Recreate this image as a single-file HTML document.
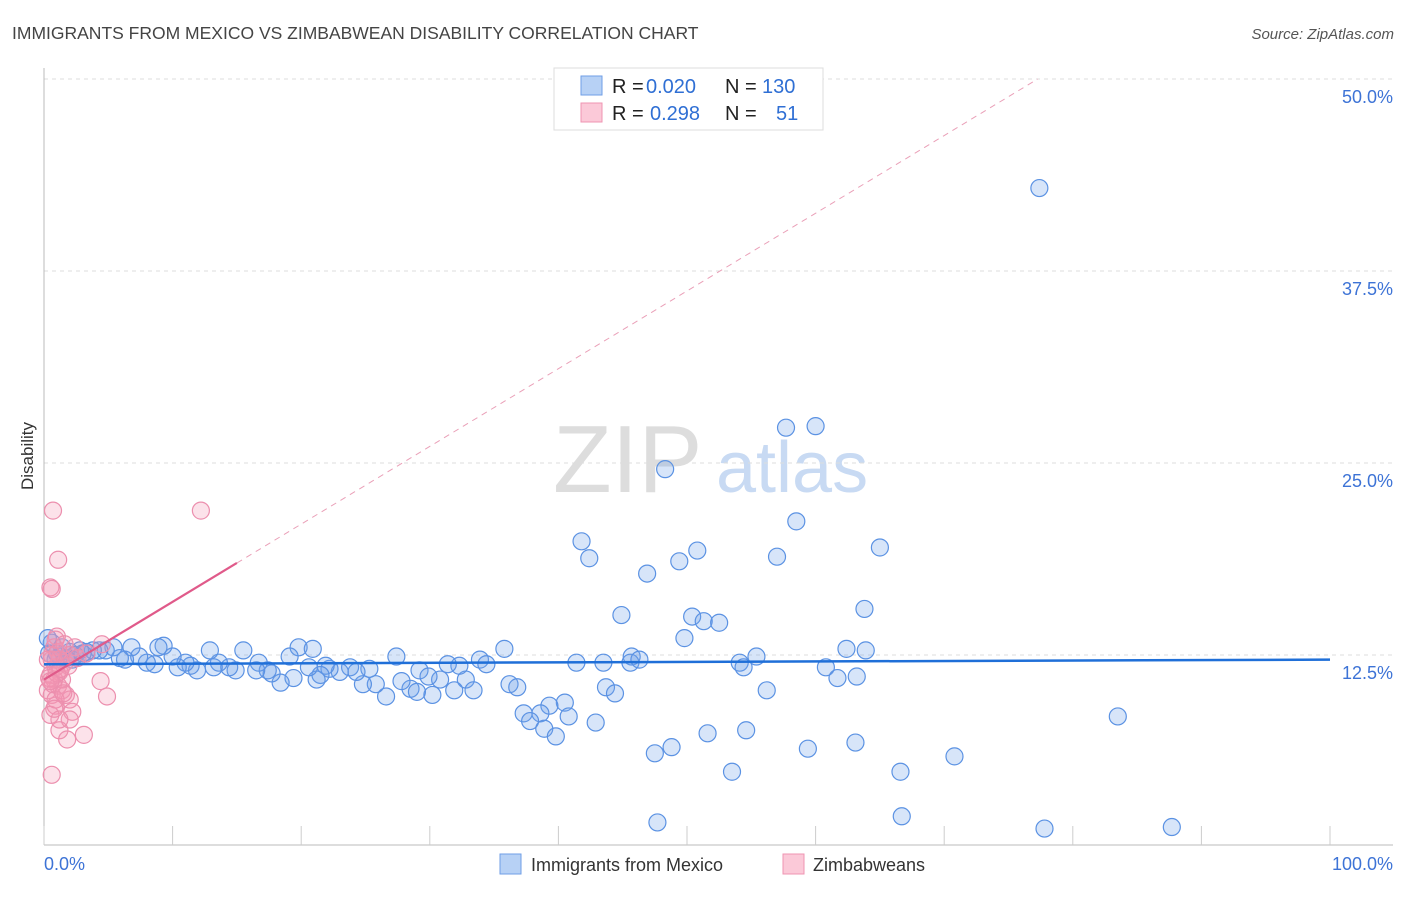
<!DOCTYPE html>
<html><head><meta charset="utf-8"><style>
body{margin:0;background:#fff;font-family:"Liberation Sans",sans-serif;}
svg text{font-family:"Liberation Sans",sans-serif;}
</style></head><body>
<svg id="chart" width="1406" height="892" xmlns="http://www.w3.org/2000/svg">
<text x="12" y="39" font-size="17.5" fill="#444">IMMIGRANTS FROM MEXICO VS ZIMBABWEAN DISABILITY CORRELATION CHART</text>
<text x="1394" y="39" font-size="15" fill="#555" font-style="italic" text-anchor="end">Source: ZipAtlas.com</text>
<text transform="translate(33,456) rotate(-90)" font-size="17" fill="#333" text-anchor="middle">Disability</text>
<g>
<text x="553" y="492" font-size="96" font-family="Liberation Serif" fill="#ddd">ZIP</text>
<text x="716" y="492" font-size="72" fill="#c8daf3">atlas</text>
</g>
<g id="grid"></g>
<g id="axes"></g>
<g id="pts"></g>
<g id="trend"></g>
<g>
<rect x="554" y="68" width="269" height="62" fill="#fff" stroke="#ddd"/>
<rect x="581" y="76" width="21" height="19" fill="#b7d1f5" stroke="#6f9ee6"/>
<rect x="581" y="103" width="21" height="19" fill="#fbc9d8" stroke="#ef94b2"/>
<text y="93" font-size="20"><tspan x="612" fill="#222">R = </tspan><tspan x="646" fill="#2f6fd4">0.020</tspan><tspan x="725" fill="#222">N = </tspan><tspan x="762" fill="#2f6fd4">130</tspan></text>
<text y="120" font-size="20"><tspan x="612" fill="#222">R = </tspan><tspan x="650" fill="#2f6fd4">0.298</tspan><tspan x="725" fill="#222">N = </tspan><tspan x="776" fill="#2f6fd4">51</tspan></text>
</g>
<g>
<rect x="500" y="854" width="21" height="20" fill="#b7d1f5" stroke="#6f9ee6"/>
<text x="531" y="871" font-size="18" fill="#333">Immigrants from Mexico</text>
<rect x="783" y="854" width="21" height="20" fill="#fbc9d8" stroke="#ef94b2"/>
<text x="813" y="871" font-size="18" fill="#333">Zimbabweans</text>
</g>
</svg>
<script>
const yTicks=[12.5,25,37.5,50];
const yTickLabels=["12.5%","25.0%","37.5%","50.0%"];
const xTicks=[0,10,20,30,40,50,60,70,80,90,100];
const xLabels=["0.0%","100.0%"];
const mexicoX=[77.4,57.7,60.0,48.3,58.5,41.8,42.4,50.8,49.4,57.0,65.0,46.9,44.9,50.4,51.3,52.5,63.8,49.8,62.4,55.4,54.1,54.4,60.8,61.7,63.2,56.2,45.7,45.6,46.3,43.5,41.4,43.7,44.4,40.5,39.3,37.3,38.6,37.8,38.9,39.8,42.9,40.8,36.2,36.8,35.8,33.9,34.4,32.8,33.4,31.9,32.3,31.4,30.8,30.2,29.2,29.9,28.5,29.0,27.8,27.4,26.6,25.8,25.3,24.8,23.8,24.3,23.0,22.2,21.9,21.5,21.2,20.6,19.8,20.9,19.1,19.4,18.4,17.7,17.4,16.7,16.5,15.5,14.9,14.4,13.6,13.2,12.9,11.9,11.4,11.0,10.4,10.0,9.3,8.9,8.6,8.0,7.4,6.8,6.3,5.9,5.4,4.8,4.3,3.8,3.3,2.8,2.4,2.0,1.7,1.4,1.0,0.6,0.3,83.5,70.8,66.6,63.1,59.4,54.6,53.5,51.6,48.8,47.5,47.7,66.7,77.8,87.7,63.9,0.9,0.4,1.2,2.2,3.0];
const mexicoY=[42.9,27.3,27.4,24.6,21.2,19.9,18.8,19.3,18.6,18.9,19.5,17.8,15.1,15.0,14.7,14.6,15.5,13.6,12.9,12.4,12.0,11.7,11.7,11.0,11.1,10.2,12.4,12.0,12.2,12.0,12.0,10.4,10.0,9.4,9.2,8.7,8.7,8.2,7.7,7.2,8.1,8.5,10.6,10.4,12.9,12.2,11.9,10.9,10.2,10.2,11.8,11.9,10.9,9.9,11.5,11.1,10.3,10.1,10.8,12.4,9.8,10.6,11.6,10.6,11.7,11.4,11.4,11.6,11.8,11.2,10.9,11.7,13.0,12.9,12.4,11.0,10.7,11.3,11.5,12.0,11.5,12.8,11.5,11.7,12.0,11.7,12.8,11.5,11.8,12.0,11.7,12.4,13.1,13.0,11.9,12.0,12.4,13.0,12.2,12.3,13.0,12.8,12.8,12.8,12.7,12.8,12.5,12.7,12.3,13.0,12.6,13.3,13.6,8.5,5.9,4.9,6.8,6.4,7.6,4.9,7.4,6.5,6.1,1.6,2.0,1.2,1.3,12.8,12.2,12.6,12.4,12.2,12.6];
const zimX=[0.7,12.2,1.1,0.5,0.6,1.0,0.8,1.1,0.6,1.2,1.6,0.9,1.2,0.5,0.8,1.1,0.3,1.4,0.6,1.7,4.4,4.9,4.5,2.0,0.9,2.2,0.5,2.0,1.2,3.1,1.8,0.6,1.2,0.9,1.6,0.6,2.4,2.0,0.3,1.4,0.9,1.9,0.4,1.0,2.6,0.7,1.5,0.8,3.3,0.5,1.3];
const zimY=[21.9,21.9,18.7,16.9,16.8,13.7,13.0,12.7,12.2,12.2,12.0,11.7,11.4,11.2,10.9,10.5,10.2,10.2,9.9,9.9,10.8,9.8,13.2,9.6,9.2,8.8,8.6,8.3,7.6,7.3,7.0,4.7,8.3,13.5,13.2,12.5,13.0,12.5,12.2,10.9,9.6,11.8,11.0,11.3,12.3,10.6,10.0,9.0,12.6,10.8,11.6];
const mexicoTrend=[11.9,12.2];
const zimTrend=[10.9,0.506];
const NS="http://www.w3.org/2000/svg";
const X0=44,X1=1330,Y0=847,Y1=79;
function sx(v){return X0+(X1-X0)*v/100;}
function sy(v){return Y0-(Y0-Y1)*v/50;}
function mk(tag,attrs,parent){const e=document.createElementNS(NS,tag);for(const k in attrs)e.setAttribute(k,attrs[k]);parent.appendChild(e);return e;}
const grid=document.getElementById('grid'),axes=document.getElementById('axes'),pts=document.getElementById('pts'),tr=document.getElementById('trend');
yTicks.forEach((t,i)=>{
 const l=mk('line',{x1:X0,x2:1393,y1:sy(t),y2:sy(t),stroke:'#ddd','stroke-dasharray':'4,4'},grid);
 
 
 const tx=mk('text',{x:1393,y:sy(t)+24,'font-size':18,fill:'#3d73d6','text-anchor':'end'},axes);
 tx.textContent=yTickLabels[i];
 
 
});
const ya=mk('line',{x1:X0,x2:X0,y1:68,y2:845,stroke:'#bbb'},axes);


const xa=mk('line',{x1:X0,x2:1393,y1:845,y2:845,stroke:'#bbb'},axes);


xTicks.forEach(t=>{
 const l=mk('line',{x1:sx(t),x2:sx(t),y1:826,y2:845,stroke:'#ccc'},axes);
 
 
});
const xl0=mk('text',{x:X0,y:870,'font-size':18,fill:'#3d73d6'},axes);xl0.textContent=xLabels[0];


const xl1=mk('text',{x:1393,y:870,'font-size':18,fill:'#3d73d6','text-anchor':'end'},axes);xl1.textContent=xLabels[1];


mexicoX.forEach((v,i)=>{
 const c=mk('circle',{cx:sx(v),cy:sy(mexicoY[i]),r:8.5,fill:'rgba(110,160,235,0.28)',stroke:'#5b92e3','stroke-width':1.2},pts);
 
 
});
zimX.forEach((v,i)=>{
 const c=mk('circle',{cx:sx(v),cy:sy(zimY[i]),r:8.5,fill:'rgba(245,150,180,0.28)',stroke:'#ec8fae','stroke-width':1.2},pts);
 
 
});
const bl=mk('line',{x1:sx(0),y1:sy(mexicoTrend[0]),x2:sx(100),y2:sy(mexicoTrend[1]),stroke:'#1f6fd8','stroke-width':2.5},tr);


const xEnd=(50-zimTrend[0])/zimTrend[1];
const pd=mk('line',{x1:sx(15),y1:sy(zimTrend[0]+zimTrend[1]*15),x2:sx(xEnd),y2:sy(50),stroke:'#eaa0b8','stroke-width':1,'stroke-dasharray':'6,5'},tr);


const ps=mk('line',{x1:sx(0),y1:sy(zimTrend[0]),x2:sx(15),y2:sy(zimTrend[0]+zimTrend[1]*15),stroke:'#e05a8a','stroke-width':2.2},tr);


</script>
</body></html>
